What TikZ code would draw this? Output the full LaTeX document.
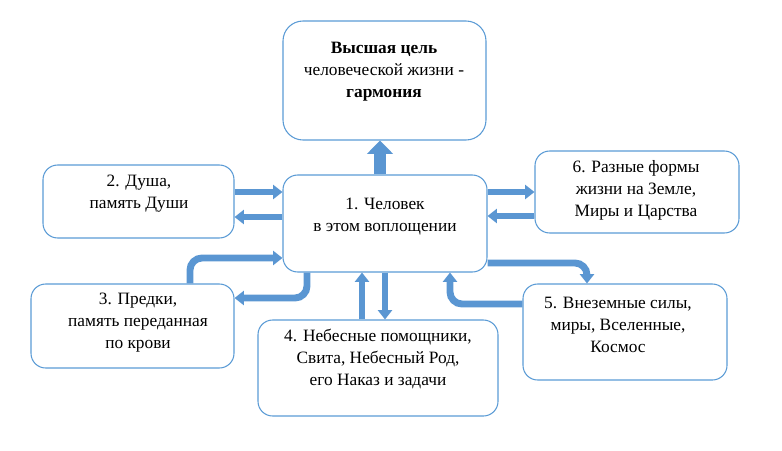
\documentclass[tikz,border=0pt]{standalone}
\usepackage{fontspec}
\setmainfont{Liberation Serif}
\newfontfamily\boxfont{Liberation Serif}
\usetikzlibrary{arrows.meta}
\definecolor{boxblue}{HTML}{5B9BD5}
\definecolor{arrowblue}{HTML}{5A96D2}
\newcommand{\pxu}{0.75pt}

\begin{document}
\begin{tikzpicture}[x=0.75pt,y=-0.75pt,
  box/.style={draw=boxblue,line width=0.8pt,rounded corners=11pt,inner sep=0pt},
  txt/.style={align=center,font=\boxfont\fontsize{13}{16.5}\selectfont,inner sep=0pt},
  link/.style={draw=arrowblue,line width=5.2pt,-{Triangle[length=7pt,width=10.5pt]}},
  elbow/.style={link,rounded corners=9pt}]

\useasboundingbox (0,0) rectangle (782,450);

\node[box,rounded corners=15pt,minimum width=203*\pxu,minimum height=119*\pxu] (goal) at (384.5,80.5) {};
\node[box,minimum width=204*\pxu,minimum height=97*\pxu] (man) at (385,223.5) {};
\node[box,minimum width=191*\pxu,minimum height=73*\pxu] (soul) at (138.5,201.5) {};
\node[box,minimum width=204*\pxu,minimum height=82*\pxu] (forms) at (637,192) {};
\node[box,minimum width=203*\pxu,minimum height=84*\pxu] (ancestors) at (132.5,326) {};
\node[box,minimum width=240*\pxu,minimum height=96*\pxu] (heaven) at (378,368) {};
\node[box,minimum width=204*\pxu,minimum height=96*\pxu] (cosmos) at (625,332) {};

\node[txt] (goal-t) at (384,72) {\textbf{Высшая цель}\\человеческой жизни -\\\textbf{гармония}};
\node[txt] (man-t) at (385,217) {1. Человек\\в этом воплощении};
\node[txt] (soul-t) at (139,193.5) {2. Душа,\\память Души};
\node[txt] (forms-t) at (636,190) {6. Разные формы\\жизни на Земле,\\Миры и Царства};
\node[txt] (ancestors-t) at (138,322.5) {3. Предки,\\память переданная\\по крови};
\node[txt] (heaven-t) at (378,359) {4. Небесные помощники,\\Свита, Небесный Род,\\его Наказ и задачи};
\node[txt] (cosmos-t) at (618,325) {5. Внеземные силы,\\миры, Вселенные,\\Космос};

% up to the goal
\draw[arrowblue,line width=9pt,-{Triangle[length=10pt,width=19pt]}] (man.north -| 380,0) -- (goal.south -| 380,0);

% left and right pairs
\draw[link] (soul.east |- 0,192) -- (man.west |- 0,192);
\draw[link] (man.west |- 0,217) -- (soul.east |- 0,217);
\draw[link] (man.east |- 0,192) -- (forms.west |- 0,192);
\draw[link] (forms.west |- 0,216) -- (man.east |- 0,216);

% lower row
\draw[elbow] (ancestors.north -| 190,0) |- (man.west |- 0,258);
\draw[elbow] (man.south -| 307,0) |- (ancestors.east |- 0,298);
\draw[link] (heaven.north -| 362,0) -- (man.south -| 362,0);
\draw[link] (man.south -| 385,0) -- (heaven.north -| 385,0);
\draw[elbow] (cosmos.west |- 0,304) -| (man.south -| 450,0);
\draw[elbow] (man.east |- 0,263) -| (cosmos.north -| 587,0);

\end{tikzpicture}
\end{document}
